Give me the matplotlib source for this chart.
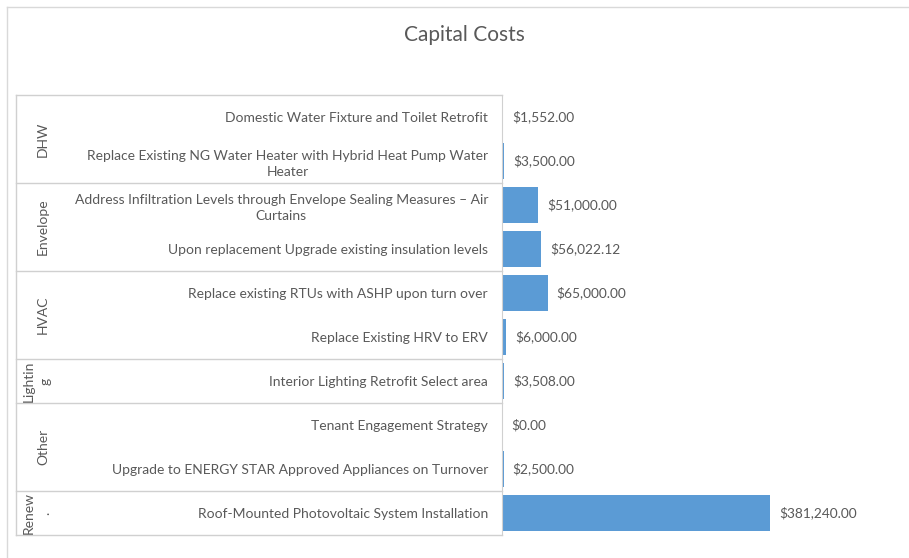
import matplotlib.pyplot as plt
import matplotlib.transforms as mtransforms

plt.rcParams["font.family"] = ["Lato", "DejaVu Sans"]

measures = [
    "Domestic Water Fixture and Toilet Retrofit",
    "Replace Existing NG Water Heater with Hybrid Heat Pump Water\nHeater",
    "Address Infiltration Levels through Envelope Sealing Measures – Air\nCurtains",
    "Upon replacement Upgrade existing insulation levels",
    "Replace existing RTUs with ASHP upon turn over",
    "Replace Existing HRV to ERV",
    "Interior Lighting Retrofit Select area",
    "Tenant Engagement Strategy",
    "Upgrade to ENERGY STAR Approved Appliances on Turnover",
    "Roof-Mounted Photovoltaic System Installation",
]
costs = [1552.00, 3500.00, 51000.00, 56022.12, 65000.00,
         6000.00, 3508.00, 0.00, 2500.00, 381240.00]
groups = ["DHW", "Envelope", "HVAC", "Lightin\ng", "Other", "Renew\n."]
group_sizes = [2, 2, 2, 1, 2, 1]

W, H = 909, 558
fig = plt.figure(figsize=(W / 100, H / 100), dpi=100)

def fx(px):
    return px / W

def fy(py):
    return 1 - py / H

bar_left, bar_right = 502, 896
top, bottom = 95, 535
ax = fig.add_axes([fx(bar_left), fy(bottom), fx(bar_right - bar_left), (bottom - top) / H])

text_col = "#595959"
line_col = "#D0D0D0"

ypos = list(range(len(measures)))
ax.barh(ypos, costs, height=0.83, color="#5B9BD5")
ax.set_ylim(len(measures) - 0.5, -0.5)
ax.set_xlim(0, 560000)

for y, v in zip(ypos, costs):
    ax.annotate(f"${v:,.2f}", xy=(v, y), xytext=(6.5, 0), textcoords="offset points",
                ha="left", va="center", fontsize=9.9, color=text_col)

ax.set_yticks(ypos)
ax.set_yticklabels(measures, fontsize=10, color=text_col)
for t in ax.get_yticklabels():
    t.set_multialignment("center")
    t.set_linespacing(1.4)
ax.tick_params(axis="y", length=0, pad=10)
ax.set_xticks([])
for s in ["top", "right", "bottom"]:
    ax.spines[s].set_visible(False)
ax.spines["left"].set_color(line_col)

# group column (table on the left)
trans = mtransforms.blended_transform_factory(fig.transFigure, ax.transData)
start = -0.5
ax.plot([fx(16), fx(bar_left)], [start, start], transform=trans, color=line_col,
        lw=1, clip_on=False)
for g, n in zip(groups, group_sizes):
    end = start + n
    ax.plot([fx(16), fx(bar_left)], [end, end], transform=trans, color=line_col,
            lw=1, clip_on=False)
    ax.text(fx(37 if "\n" in g else 43), (start + end) / 2, g, transform=trans,
            rotation=90, ha="center", va="center", fontsize=10, color=text_col,
            linespacing=1.45, multialignment="center")
    start = end
ax.plot([fx(16), fx(16)], [-0.5, len(measures) - 0.5], transform=trans,
        color=line_col, lw=1, clip_on=False)

# outer chart frame
fig.add_artist(plt.Line2D([fx(7), 1], [fy(6.5), fy(6.5)], color="#D9D9D9", lw=1))
fig.add_artist(plt.Line2D([fx(7), fx(7)], [0, fy(6.5)], color="#D9D9D9", lw=1))

fig.text(fx(464), fy(35), "Capital Costs", ha="center", va="center",
         fontsize=15, color=text_col)

fig.savefig("out.png", dpi=100, facecolor="white")
